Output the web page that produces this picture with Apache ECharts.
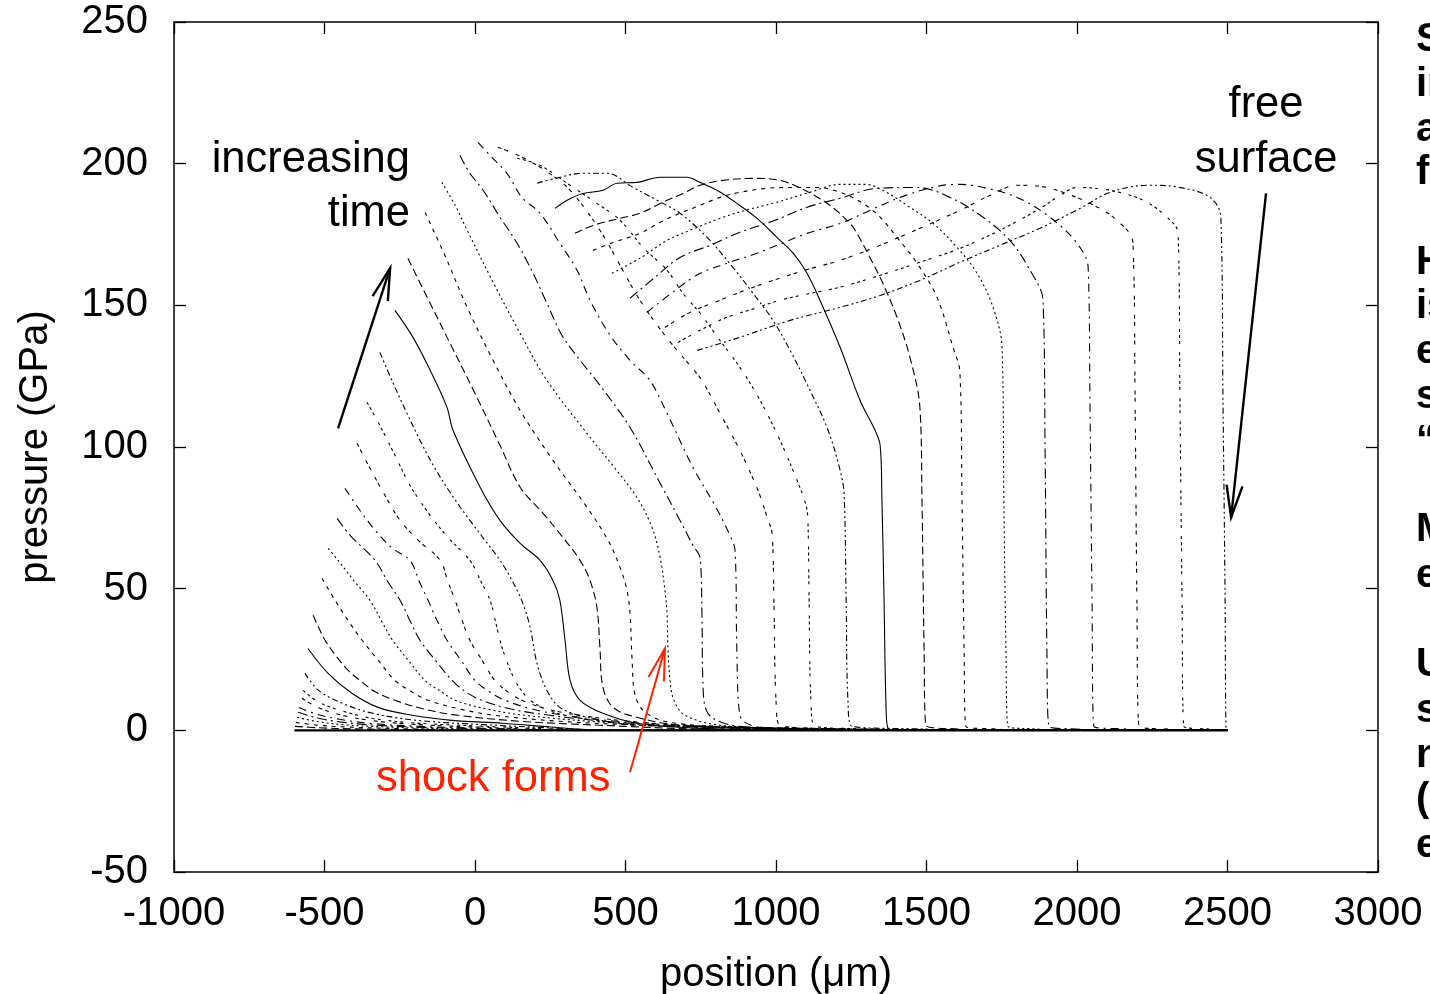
<!DOCTYPE html>
<html><head><meta charset="utf-8">
<script src="https://cdn.jsdelivr.net/npm/echarts@6/dist/echarts.min.js"></script>
<style>html,body{margin:0;padding:0;background:#fff;overflow:hidden}#c{width:1430px;height:994px}</style>
</head><body><div id="c"></div>
<script>
// axis ranges
const xMin = -1000, xMax = 3000, xStep = 500;
const yMin = -50, yMax = 250, yStep = 50;

// pressure profiles [position (um), pressure (GPa)], in time order
const t01 = [[-600,0],[2500,0]];
const t02 = [[-598,1.4],[-520,0.9],[-400,0.5],[-150,0.2],[50,0],[2500,0]];
const t03 = [[-595,2.8],[-530,1.9],[-430,1.2],[-250,0.6],[100,0],[2500,0]];
const t04 = [[-591,4.6],[-530,3.2],[-440,2.0],[-300,1.2],[-100,0.6],[200,0],[2500,0]];
const t05 = [[-588,6.4],[-530,4.5],[-450,3.0],[-330,1.8],[-150,1.0],[100,0.4],[250,0],[2500,0]];
const t06 = [[-585,8.1],[-530,5.8],[-450,3.9],[-340,2.4],[-180,1.4],[50,0.7],[300,0],[2500,0]];
const t07 = [[-575,11.3],[-520,8.0],[-440,5.3],[-340,3.4],[-200,2.1],[0,1.2],[200,0.4],[350,0],[2500,0]];
const t08 = [[-571,14.1],[-520,10.0],[-440,6.8],[-340,4.2],[-200,2.6],[20,1.5],[250,0.5],[400,0],[2500,0]];
const t09 = [[-565,20.1],[-520,14.1],[-440,9.5],[-340,6.0],[-190,3.5],[30,2.0],[300,0.6],[450,0],[2500,0]];
const t10 = [[-555,28.9],[-488,20.1],[-409,13.1],[-322,8.1],[-209,5.3],[-76,3.5],[90,2.5],[250,1.2],[350,0.4],[450,0],[2500,0]];
const t11 = [[-538,40.6],[-515,35.3],[-498,31.8],[-460,26.0],[-420,21.0],[-382,17.6],[-330,13.5],[-266,10.6],[-170,7.5],[-56,5.3],[150,3.2],[415,1.8],[748,0.4],[1000,0],[2500,0]];
const t12 = [[-508,53.6],[-465,45.9],[-420,38.5],[-375,31.8],[-320,24.5],[-266,17.6],[-210,13.6],[-156,10.6],[-50,7.5],[66,5.3],[280,3.2],[548,1.8],[947,0.4],[1150,0],[2500,0]];
const t13 = [[-488,64.2],[-455,60.0],[-400,52.5],[-349,45.9],[-310,38.5],[-274,31.8],[-220,24.5],[-166,17.6],[-110,13.5],[-66,10.6],[40,7.5],[166,5.3],[380,3.2],[615,1.8],[1013,0.4],[1200,0],[2500,0]];
const t14 = [[-458,74.8],[-415,68.8],[-332,60.0],[-290,52.5],[-249,45.9],[-215,38.5],[-183,31.8],[-130,24.5],[-76,17.6],[-30,13.5],[23,10.6],[120,7.5],[249,5.3],[430,3.2],[648,1.8],[1080,0.4],[1250,0],[2500,0]];
const t15 = [[-432,85.4],[-382,77.6],[-332,70.6],[-274,64.2],[-216,60.0],[-185,52.5],[-156,45.9],[-125,38.5],[-93,31.8],[-45,24.5],[0,17.6],[50,13.5],[100,10.6],[190,7.5],[299,5.3],[470,3.2],[681,1.8],[1146,0.4],[1300,0],[2500,0]];
const t16 = [[-392,101.3],[-349,92.5],[-299,82.9],[-249,74.1],[-189,67.1],[-116,60.0],[-90,52.5],[-66,45.9],[-42,38.5],[-17,31.8],[25,24.5],[66,17.6],[110,13.5],[156,10.6],[240,7.5],[349,5.3],[510,3.2],[714,1.8],[1213,0.4],[1350,0],[2500,0]];
const t17 = [[-359,115.8],[-316,107.6],[-266,97.1],[-216,86.5],[-156,76.9],[-90,68.1],[-17,60.0],[20,52.5],[50,45.9],[68,38.5],[83,31.8],[105,24.5],[133,17.6],[158,13.5],[183,10.6],[235,7.5],[299,5.3],[420,3.2],[548,1.8],[1279,0.4],[1400,0],[2500,0]];
const t18 = [[-316,133.4],[-272,122.5],[-226,111.9],[-183,102.4],[-133,92.5],[-76,82.9],[-17,74.1],[33,67.1],[83,60.0],[123,52.9],[159,44.8],[183,36.4],[206,23.6],[239,14.1],[282,8.1],[372,4.6],[548,1.8],[1312,0.4],[1450,0],[2500,0]];
const t19 = [[-266,148.2],[-206,138.7],[-149,127.1],[-93,114.0],[-73,105.9],[17,85.8],[83,74.1],[150,66.0],[216,60.0],[259,52.9],[282,45.9],[299,31.8],[316,17.6],[349,10.6],[425,6.0],[538,2.5],[748,0.7],[1080,0],[2500,0]];
const t20 = [[-223,166.6],[-149,150.7],[-83,136.6],[0,118.9],[83,100.6],[150,85.8],[226,76.6],[292,68.1],[349,60.0],[382,52.9],[405,43.4],[415,29.3],[425,15.2],[459,8.1],[538,4.6],[681,1.8],[1013,0.4],[1150,0],[2500,0]];
const t21 = [[-166,182.8],[-100,167.6],[-26,149.3],[60,130.6],[150,112.9],[259,95.3],[372,78.7],[442,67.1],[482,57.5],[505,49.4],[515,41.3],[522,24.7],[532,12.4],[565,6.4],[648,2.8],[947,0.4],[1100,0],[2500,0]];
const t22 = [[-110,193.4],[-66,185.3],[-26,176.5],[57,158.8],[150,140.1],[239,123.5],[372,104.8],[465,92.5],[538,82.2],[588,71.6],[615,61.1],[631,49.4],[638,41.3],[641,29.3],[648,17.6],[661,10.6],[698,5.3],[814,1.8],[1080,0.4],[1200,0],[2500,0]];
const t23 = [[-50,202.9],[-17,196.6],[27,190.6],[83,181.1],[140,171.9],[193,161.3],[239,150.7],[289,139.4],[349,130.6],[415,121.8],[515,106.9],[615,87.2],[681,74.1],[724,65.3],[748,60.7],[754,41.3],[757,17.6],[774,6.0],[880,1.4],[1146,0.4],[1250,0],[2500,0]];
const t24 = [[10,207.5],[50,202.9],[106,196.6],[156,188.1],[216,182.5],[282,171.9],[339,162.4],[382,151.8],[449,139.4],[515,130.6],[581,123.5],[638,111.9],[724,92.8],[797,79.4],[847,68.8],[864,63.5],[870,28.2],[880,5.3],[947,1.1],[1213,0.4],[1300,0],[2500,0]];
const t25 = [[76,205.8],[150,202.6],[233,197.6],[316,190.6],[415,176.5],[482,164.1],[548,151.8],[631,139.4],[714,128.8],[754,123.5],[814,111.9],[880,98.8],[940,84.7],[974,74.1],[987,69.5],[993,45.9],[1000,10.6],[1013,1.8],[1246,0.4],[1350,0],[2500,0]];
const t26 = [[140,201.9],[216,199.4],[326,191.6],[405,186.0],[482,180.0],[558,170.5],[638,162.4],[691,154.2],[748,147.2],[814,137.6],[880,128.1],[947,116.5],[1013,102.4],[1070,88.2],[1100,79.4],[1106,74.1],[1110,45.9],[1116,10.6],[1130,1.4],[1379,0.4],[1450,0],[2500,0]];
const t27 = [[206,193.1],[266,194.8],[359,196.6],[439,196.6],[525,191.6],[605,187.1],[681,182.5],[771,174.0],[857,163.4],[924,154.2],[990,144.7],[1047,134.1],[1113,120.0],[1173,105.9],[1213,91.8],[1226,83.6],[1233,45.9],[1239,10.6],[1253,1.4],[1512,0.4],[1550,0],[2500,0]];
const t28 = [[266,184.2],[306,187.1],[359,189.5],[425,190.6],[472,193.1],[538,193.4],[615,195.2],[704,195.2],[748,193.4],[804,190.6],[870,186.0],[937,180.7],[1003,174.0],[1057,168.4],[1103,161.3],[1146,151.8],[1213,135.2],[1279,116.5],[1329,105.9],[1346,100.6],[1352,81.2],[1359,45.9],[1365,10.6],[1372,0.7],[1412,0],[2500,0]];
const t29 = [[332,175.4],[392,178.2],[482,180.7],[548,182.5],[625,186.4],[691,189.5],[748,192.4],[824,194.1],[924,194.8],[1013,194.1],[1096,190.6],[1179,185.3],[1246,178.9],[1269,175.4],[1312,166.9],[1355,157.8],[1402,145.8],[1445,131.6],[1478,114.0],[1485,81.2],[1492,28.2],[1498,1.8],[1611,0.4],[1650,0],[2500,0]];
const t30 = [[392,169.4],[459,172.2],[548,175.4],[615,179.3],[681,182.5],[748,185.3],[814,188.1],[880,189.9],[970,191.3],[1057,191.6],[1136,191.6],[1213,189.9],[1289,186.0],[1346,181.1],[1402,174.0],[1469,164.8],[1535,152.8],[1588,135.2],[1611,126.4],[1618,81.2],[1625,28.2],[1631,1.4],[1744,0.4],[1780,0],[2500,0]];
const t31 = [[455,161.3],[548,166.6],[638,172.9],[731,177.2],[814,180.7],[897,183.5],[990,186.0],[1113,189.9],[1213,192.7],[1296,192.7],[1355,190.6],[1445,184.6],[1522,178.9],[1601,170.5],[1668,161.3],[1721,149.3],[1751,135.2],[1757,81.2],[1764,28.2],[1771,1.4],[1877,0.4],[1900,0],[2500,0]];
const t32 = [[515,152.5],[598,159.9],[681,166.9],[781,171.2],[880,175.8],[997,180.0],[1103,184.6],[1213,187.8],[1336,191.3],[1469,191.6],[1578,188.1],[1688,181.1],[1777,172.9],[1844,162.4],[1887,151.8],[1894,98.8],[1900,28.2],[1907,1.4],[2010,0.4],[2040,0],[2500,0]];
const t33 = [[571,147.5],[665,155.3],[748,161.3],[847,165.2],[937,168.4],[1020,171.9],[1103,175.4],[1213,178.9],[1312,183.5],[1412,188.1],[1535,192.0],[1611,192.7],[1688,191.6],[1801,188.1],[1910,181.1],[2000,171.9],[2037,163.4],[2043,116.5],[2050,45.9],[2056,1.4],[2176,0.4],[2200,0],[2500,0]];
const t34 = [[631,142.2],[714,147.5],[814,151.8],[897,155.3],[990,158.8],[1096,162.4],[1213,165.9],[1346,171.2],[1478,177.2],[1611,183.5],[1711,188.8],[1801,192.4],[1877,192.0],[1934,190.6],[2043,186.0],[2133,180.0],[2186,171.9],[2193,116.5],[2199,45.9],[2206,1.4],[2309,0.4],[2330,0],[2500,0]];
const t35 = [[674,136.9],[748,141.2],[837,145.8],[930,148.9],[1013,151.8],[1113,154.2],[1213,156.4],[1346,160.6],[1478,165.2],[1611,170.1],[1744,176.5],[1877,184.2],[1944,188.8],[2000,191.6],[2110,190.6],[2219,187.1],[2299,181.1],[2336,175.4],[2342,116.5],[2349,45.9],[2355,1.4],[2442,0.4],[2460,0],[2500,0]];
const t36 = [[738,134.1],[880,138.7],[1047,144.7],[1213,149.3],[1346,153.5],[1478,158.8],[1611,165.2],[1744,171.2],[1877,177.2],[2010,184.2],[2110,189.9],[2243,192.4],[2342,191.6],[2442,188.1],[2478,181.1],[2485,116.5],[2492,45.9],[2495,0.7],[2500,0]];

// annotation anchors in data units
const arrowTime    = {from:[-455,106.6], to:[-282,163.1]};
const arrowSurface = {from:[2628,189.5], to:[2512,75.2]};
const arrowShock   = {from:[515,-14.8],  to:[631,28.9]};
const labelIncreasing = [-216,201.2];
const labelTime       = [-216,182.1];
const labelFree       = [2628,220.6];
const labelSurface    = [2628,201.2];
const labelShock      = [-329,-17.3];

// clipped side-text fragments (layout only)
const sideLines = [['S',40],['in',85],['a',130],['fa',173],['H',263],['is',307],['e',352],['s',397],['\u201C',442],['M',530],['e',576],['U',665],['s',711],['n',756],['(',800],['e',846]];

const profileList = [t01,t02,t03,t04,t05,t06,t07,t08,t09,t10,t11,t12,t13,t14,t15,t16,t17,t18,t19,t20,t21,t22,t23,t24,t25,t26,t27,t28,t29,t30,t31,t32,t33,t34,t35,t36];

const FONT = '"Liberation Sans", Arial, Helvetica, sans-serif';
const dashCycle = ['solid',[8,4],[4,5],[2,3],[10,4,2,4],[8,5,2,5],[4,3,4,8],[3,3,3,3,3,8],[6,3,2,3,2,3]];

const series = profileList.map((d, i) => ({
  type: 'line', data: d, showSymbol: false, symbol: 'none', silent: true,
  animation: false, smooth: 0.35,
  lineStyle: {color: '#000', width: i === 0 ? 2.4 : 1.1, type: dashCycle[i % dashCycle.length]},
  z: 2
}));

const axisLineStyle = {color: '#000', width: 1.5};
const tickStyle = {color: '#000', width: 1.3};
const option = {
  backgroundColor: '#fff',
  animation: false,
  grid: {left: 174, right: 52, top: 22, bottom: 122, containLabel: false, outerBoundsMode: 'none'},
  xAxis: [
    {type: 'value', min: xMin, max: xMax, interval: xStep, position: 'bottom',
     axisLine: {show: true, onZero: false, lineStyle: axisLineStyle},
     axisTick: {show: true, inside: true, length: 12, lineStyle: tickStyle},
     axisLabel: {color: '#000', fontSize: 40, fontFamily: FONT, margin: 22, formatter: v => String(v)},
     splitLine: {show: false},
     name: 'position (\u03BCm)', nameLocation: 'middle', nameGap: 83,
     nameTextStyle: {color: '#000', fontSize: 40, fontFamily: FONT}},
    {type: 'value', min: xMin, max: xMax, interval: xStep, position: 'top',
     axisLine: {show: true, onZero: false, lineStyle: axisLineStyle},
     axisTick: {show: true, inside: true, length: 12, lineStyle: tickStyle},
     axisLabel: {show: false}, splitLine: {show: false}}
  ],
  yAxis: [
    {type: 'value', min: yMin, max: yMax, interval: yStep, position: 'left',
     axisLine: {show: true, onZero: false, lineStyle: axisLineStyle},
     axisTick: {show: true, inside: true, length: 12, lineStyle: tickStyle},
     axisLabel: {color: '#000', fontSize: 40, fontFamily: FONT, margin: 26, formatter: v => String(v)},
     splitLine: {show: false},
     name: 'pressure (GPa)', nameLocation: 'middle', nameGap: 118, nameRotate: 90,
     nameTextStyle: {color: '#000', fontSize: 40, fontFamily: FONT}},
    {type: 'value', min: yMin, max: yMax, interval: yStep, position: 'right',
     axisLine: {show: true, onZero: false, lineStyle: axisLineStyle},
     axisTick: {show: true, inside: true, length: 12, lineStyle: tickStyle},
     axisLabel: {show: false}, splitLine: {show: false}}
  ],
  series: series
};

const chart = echarts.init(document.getElementById('c'), null, {renderer: 'canvas'});
chart.setOption(option);

function toPx(pt) { return chart.convertToPixel({gridIndex: 0}, pt); }
function arrowEls(a, color, width) {
  const p0 = toPx(a.from), p1 = toPx(a.to);
  const dx = p1[0]-p0[0], dy = p1[1]-p0[1], L = Math.hypot(dx, dy);
  const ux = dx/L, uy = dy/L, hl = 32, hw = 8;
  const bx = p1[0]-ux*hl, by = p1[1]-uy*hl;
  const w1 = [bx-uy*hw, by+ux*hw], w2 = [bx+uy*hw, by-ux*hw];
  return [
    {type: 'line', silent: true, z: 10, shape: {x1: p0[0], y1: p0[1], x2: p1[0], y2: p1[1]}, style: {stroke: color, lineWidth: width}},
    {type: 'polyline', silent: true, z: 10, shape: {points: [w1, p1, w2]}, style: {stroke: color, lineWidth: width, fill: null}}
  ];
}
function textEl(txt, pt, align, color, font) {
  const p = toPx(pt);
  return {type: 'text', silent: true, z: 10, x: p[0], y: p[1],
    style: {text: txt, fill: color, font: font, align: align, verticalAlign: 'middle', textAlign: align, textVerticalAlign: 'middle'}};
}
const annFont = '43.5px ' + FONT;
const red = '#ff2200';
let els = [];
els = els.concat(arrowEls(arrowTime, '#000', 2.4));
els = els.concat(arrowEls(arrowSurface, '#000', 2.4));
els = els.concat(arrowEls(arrowShock, red, 2));
els.push(textEl('increasing', labelIncreasing, 'right', '#000', annFont));
els.push(textEl('time', labelTime, 'right', '#000', annFont));
els.push(textEl('free', labelFree, 'center', '#000', annFont));
els.push(textEl('surface', labelSurface, 'center', '#000', annFont));
els.push(textEl('shock forms', labelShock, 'left', red, annFont));
sideLines.forEach(([t, y]) => {
  els.push({type: 'text', silent: true, z: 10, x: 1416, y: y,
    style: {text: t, fill: '#000', font: 'bold 40px ' + FONT, align: 'left', verticalAlign: 'middle', textAlign: 'left', textVerticalAlign: 'middle'}});
});
chart.setOption({graphic: {elements: els}});
</script>
</body></html>
